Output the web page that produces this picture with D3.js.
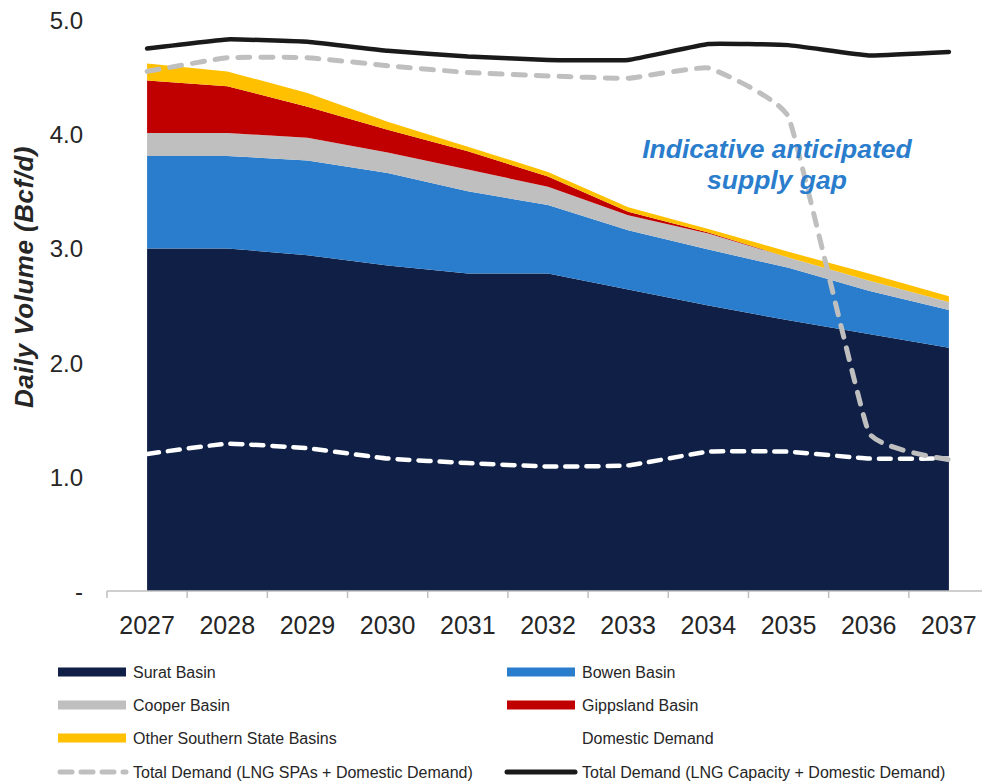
<!DOCTYPE html>
<html><head><meta charset="utf-8">
<script src="https://cdn.jsdelivr.net/npm/d3@7"></script>
<style>
html,body{margin:0;padding:0;background:#fff;}
svg{display:block;font-family:"Liberation Sans",Arial,sans-serif;}
</style></head>
<body><svg id="chart" width="982" height="783"></svg>
<script>
const years = [2027,2028,2029,2030,2031,2032,2033,2034,2035,2036,2037];
const surat     = [3.00,3.00,2.94,2.85,2.78,2.78,2.64,2.50,2.37,2.25,2.13];
const bowen     = [0.81,0.81,0.83,0.81,0.72,0.60,0.52,0.49,0.46,0.38,0.33];
const cooper    = [0.20,0.20,0.20,0.18,0.19,0.16,0.13,0.14,0.09,0.09,0.07];
const gippsland = [0.46,0.41,0.27,0.20,0.16,0.09,0.03,0.01,0.00,0.00,0.00];
const otherSouth= [0.15,0.13,0.12,0.07,0.04,0.04,0.04,0.03,0.05,0.06,0.05];
const domestic  = [1.20,1.29,1.25,1.16,1.12,1.09,1.10,1.22,1.22,1.16,1.16];
const totalSPA  = [4.55,4.67,4.67,4.60,4.54,4.51,4.49,4.58,4.15,1.39,1.15];
const totalCap  = [4.75,4.83,4.81,4.73,4.68,4.65,4.65,4.79,4.78,4.69,4.72];
const yTicks = [0,1,2,3,4,5];

const seriesNames = ["Surat Basin","Bowen Basin","Cooper Basin","Gippsland Basin","Other Southern State Basins"];
const seriesColors = ["#0f1f45","#2a7dcc","#bfbfbf","#c00000","#ffc000"];
const seriesData = [surat,bowen,cooper,gippsland,otherSouth];

const svg = d3.select("#chart");
const x = d3.scaleBand().domain(years).range([107,989]).padding(0);
const cx = d => x(d) + x.bandwidth()/2;
const y = d3.scaleLinear().domain([0,5]).range([591,20]);

// stacked areas
const table = years.map((yr,i)=>{ const o={year:yr}; seriesNames.forEach((n,k)=>o[n]=seriesData[k][i]); return o;});
const stack = d3.stack().keys(seriesNames)(table);
const area = d3.area().x(d=>cx(d.data.year)).y0(d=>y(d[0])).y1(d=>y(d[1]));
svg.append("g").selectAll("path").data(stack).join("path")
  .attr("d",area).attr("fill",(d,i)=>seriesColors[i]);

// x axis
const xa = svg.append("g").attr("transform",`translate(0,${y(0)})`);
xa.append("line").attr("x1",107).attr("x2",989).attr("y1",0).attr("y2",0).attr("stroke","#bfbfbf").attr("stroke-width",1.5);
const bounds = years.map(d=>x(d)).concat([x(years[years.length-1])+x.bandwidth()]);
xa.selectAll("line.tk").data(bounds).join("line").attr("class","tk")
  .attr("x1",d=>d).attr("x2",d=>d).attr("y1",0).attr("y2",7).attr("stroke","#bfbfbf").attr("stroke-width",1.5);
xa.selectAll("text").data(years).join("text")
  .attr("x",d=>cx(d)).attr("y",43).attr("text-anchor","middle")
  .attr("font-size",25).attr("fill","#262626").text(d=>d);

// y axis labels
svg.append("g").selectAll("text").data(yTicks).join("text")
  .attr("x",83).attr("y",d=>y(d)+9).attr("text-anchor","end")
  .attr("font-size",24).attr("fill","#262626")
  .text(d=>d===0?"-":d3.format(".1f")(d));

svg.append("text").attr("transform","translate(33,277) rotate(-90)")
  .attr("text-anchor","middle").attr("font-size",26).attr("font-weight","bold")
  .attr("letter-spacing",0.5)
  .attr("font-style","italic").attr("fill","#262626").text("Daily Volume (Bcf/d)");

// lines
const line = d3.line().x((d,i)=>cx(years[i])).y(d=>y(d)).curve(d3.curveCardinal.tension(0.7));
svg.append("path").attr("d",line(domestic)).attr("fill","none").attr("stroke","#ffffff")
  .attr("stroke-width",4.5).attr("stroke-dasharray","12,9").attr("stroke-linecap","round");
svg.append("path").attr("d",line(totalSPA)).attr("fill","none").attr("stroke","#bfbfbf")
  .attr("stroke-width",5).attr("stroke-dasharray","12,11").attr("stroke-linecap","round");
svg.append("path").attr("d",line(totalCap)).attr("fill","none").attr("stroke","#1a1a1a")
  .attr("stroke-width",4.5).attr("stroke-linecap","round");

// annotation
const ann = svg.append("text").attr("text-anchor","middle").attr("font-size",26.5)
  .attr("font-weight","bold").attr("font-style","italic").attr("fill","#2a7dcc");
ann.append("tspan").attr("x",777).attr("y",158).text("Indicative anticipated");
ann.append("tspan").attr("x",777).attr("y",189).text("supply gap");

// legend
const legendItems = [
  {name:"Surat Basin",type:"area",color:seriesColors[0],col:0,row:0},
  {name:"Bowen Basin",type:"area",color:seriesColors[1],col:1,row:0},
  {name:"Cooper Basin",type:"area",color:seriesColors[2],col:0,row:1},
  {name:"Gippsland Basin",type:"area",color:seriesColors[3],col:1,row:1},
  {name:"Other Southern State Basins",type:"area",color:seriesColors[4],col:0,row:2},
  {name:"Domestic Demand",type:"white",color:"#ffffff",col:1,row:2},
  {name:"Total Demand (LNG SPAs + Domestic Demand)",type:"dash",color:"#bfbfbf",col:0,row:3},
  {name:"Total Demand (LNG Capacity + Domestic Demand)",type:"solid",color:"#1a1a1a",col:1,row:3}
];
const colX=[58,507], rowY=[672,705,738,772];
const lg = svg.append("g").selectAll("g").data(legendItems).join("g")
  .attr("transform",d=>`translate(${colX[d.col]},${rowY[d.row]})`);
lg.filter(d=>d.type==="area").append("rect").attr("x",0).attr("y",-4.5).attr("width",68).attr("height",9).attr("fill",d=>d.color);
lg.filter(d=>d.type==="dash").append("line").attr("x1",2).attr("x2",68).attr("y1",0).attr("y2",0)
  .attr("stroke",d=>d.color).attr("stroke-width",5).attr("stroke-dasharray","12,9").attr("stroke-linecap","round");
lg.filter(d=>d.type==="solid").append("line").attr("x1",0).attr("x2",68).attr("y1",0).attr("y2",0)
  .attr("stroke",d=>d.color).attr("stroke-width",5).attr("stroke-linecap","round");
lg.filter(d=>d.type==="white").append("line").attr("x1",0).attr("x2",68).attr("y1",0).attr("y2",0)
  .attr("stroke",d=>d.color).attr("stroke-width",4).attr("stroke-dasharray","12,9");
lg.append("text").attr("x",75).attr("y",5.5).attr("font-size",16).attr("fill","#262626").text(d=>d.name);
</script></body></html>
